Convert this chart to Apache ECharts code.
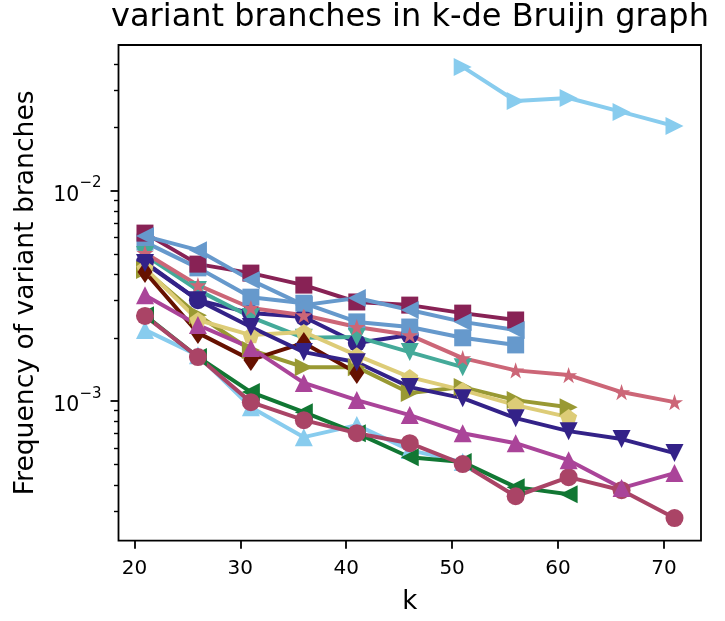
<!DOCTYPE html>
<html><head><meta charset="utf-8">
<script src="https://cdn.jsdelivr.net/npm/echarts@6/dist/echarts.min.js"></script>
<style>html,body{margin:0;padding:0;background:#fff}#c{width:725px;height:621px}</style>
</head><body><div id="c"></div>
<script>
const kValues = [21, 26, 31, 36, 41, 46, 51, 56, 61, 66, 71];
const xTicks = [20, 30, 40, 50, 60, 70];
const yMajorTicks = [0.001, 0.01];
const yMinorTicks = [2e-4,3e-4,4e-4,5e-4,6e-4,7e-4,8e-4,9e-4,2e-3,3e-3,4e-3,5e-3,6e-3,7e-3,8e-3,9e-3,2e-2,3e-2,4e-2];

const s0  = [4.58e-3, 3.02e-3, 2.62e-3, 2.51e-3, 1.89e-3, 2.06e-3, null, null, null, null, null];
const s1  = [5.70e-3, 4.30e-3, 3.12e-3, 2.92e-3, 2.38e-3, 2.25e-3, 2.00e-3, 1.85e-3, null, null, null];
const s2  = [2.18e-3, 1.65e-3, 9.36e-4, 6.74e-4, 7.69e-4, 5.85e-4, 5.13e-4, null, null, null, null];
const s3  = [4.95e-3, 3.37e-3, 2.51e-3, 2.00e-3, 2.02e-3, 1.71e-3, 1.45e-3, null, null, null, null];
const s4  = [2.56e-3, 1.62e-3, 1.104e-3, 8.86e-4, 7.04e-4, 5.41e-4, 5.13e-4, 3.90e-4, 3.61e-4, null, null];
const s5  = [4.20e-3, 2.56e-3, 1.75e-3, 1.45e-3, 1.45e-3, 1.092e-3, 1.166e-3, 1.011e-3, 9.36e-4, null, null];
const s6  = [4.29e-3, 2.43e-3, 2.06e-3, 2.13e-3, 1.65e-3, 1.30e-3, 1.128e-3, 9.57e-4, 8.39e-4, null, null];
const s7  = [4.11e-3, 2.11e-3, 1.57e-3, 1.89e-3, 1.36e-3, null, null, null, null, null, null];
const s8  = [5.06e-3, 3.56e-3, 2.77e-3, 2.56e-3, 2.25e-3, 2.06e-3, 1.60e-3, 1.40e-3, 1.33e-3, 1.104e-3, 9.89e-4];
const s9  = [2.54e-3, 1.62e-3, 9.89e-4, 8.12e-4, 7.04e-4, 6.31e-4, 5.02e-4, 3.53e-4, 4.35e-4, 3.77e-4, 2.78e-4];
const s10 = [6.29e-3, 4.48e-3, 4.06e-3, 3.56e-3, 2.96e-3, 2.86e-3, 2.62e-3, 2.43e-3, null, null, null];
const s11 = [3.19e-3, 2.30e-3, 1.79e-3, 1.22e-3, 1.011e-3, 8.58e-4, 7.04e-4, 6.31e-4, 5.24e-4, 3.86e-4, 4.55e-4];
const s12 = [4.53e-3, 3.02e-3, 2.25e-3, 1.71e-3, 1.53e-3, 1.166e-3, 1.033e-3, 8.30e-4, 7.20e-4, 6.60e-4, 5.66e-4];
const s13 = [6.09e-3, 5.22e-3, 3.76e-3, 2.86e-3, 3.09e-3, 2.71e-3, 2.38e-3, 2.18e-3, null, null, null];
const s14 = [null, null, null, null, null, null, 0.0388, 0.0267, 0.0276, 0.0237, 0.0203];

const seriesValues = [s0, s1, s2, s3, s4, s5, s6, s7, s8, s9, s10, s11, s12, s13, s14];
const seriesColors = ['#332288','#6699CC','#88CCEE','#44AA99','#117733','#999933','#DDCC77','#661100','#CC6677','#AA4466','#882255','#AA4499','#332288','#6699CC','#88CCEE'];
const seriesMarkers = ['o','s','^','v','<','>','p','d','*','o','s','^','v','<','>'];

const STAR = 'path://M0,-1 L0.2245,-0.309 L0.9511,-0.309 L0.3633,0.118 L0.5878,0.809 L0,0.382 L-0.5878,0.809 L-0.3633,0.118 L-0.9511,-0.309 L-0.2245,-0.309 Z';
const PENT = 'path://M0,-1 L0.9511,-0.309 L0.5878,0.809 L-0.5878,0.809 L-0.9511,-0.309 Z';
const MS = 18;
function markerStyle(m) {
  switch (m) {
    case 'o': return {symbol: 'circle', symbolSize: MS, symbolRotate: 0};
    case 's': return {symbol: 'rect', symbolSize: 17, symbolRotate: 0};
    case '^': return {symbol: 'triangle', symbolSize: MS, symbolRotate: 0};
    case 'v': return {symbol: 'triangle', symbolSize: MS, symbolRotate: 180};
    case '<': return {symbol: 'triangle', symbolSize: MS, symbolRotate: 90};
    case '>': return {symbol: 'triangle', symbolSize: MS, symbolRotate: -90};
    case 'd': return {symbol: 'diamond', symbolSize: [15, 22], symbolRotate: 0};
    case '*': return {symbol: STAR, symbolSize: [MS * 0.95, MS * 0.9], symbolRotate: 0};
    case 'p': return {symbol: PENT, symbolSize: [MS * 0.95, MS * 0.9], symbolRotate: 0};
  }
}

const FONT = 'DejaVu Sans';
const series = seriesValues.map((vals, i) => {
  const m = markerStyle(seriesMarkers[i]);
  return {
    type: 'line',
    data: kValues.map((k, j) => [k, vals[j]]).filter(p => p[1] != null),
    symbol: m.symbol,
    symbolSize: m.symbolSize,
    symbolRotate: m.symbolRotate,
    showAllSymbol: true,
    color: seriesColors[i],
    lineStyle: {color: seriesColors[i], width: 4},
    itemStyle: {color: seriesColors[i], opacity: 1},
    emphasis: {disabled: true},
    clip: false,
    z: 2
  };
});

const chart = echarts.init(document.getElementById('c'), null, {renderer: 'canvas'});
chart.setOption({
  animation: false,
  backgroundColor: '#fff',
  title: {
    text: 'variant branches in k-de Bruijn graph',
    left: 410, top: 2, padding: 0, textAlign: 'center',
    textStyle: {fontFamily: FONT, fontSize: 32, fontWeight: 'normal', color: '#000'}
  },
  grid: {left: 118.5, top: 45, right: 24, bottom: 80.3, show: true, borderColor: '#000', borderWidth: 1.8, backgroundColor: 'transparent'},
  xAxis: {
    type: 'value', min: 18.5, max: 73.5,
    name: 'k', nameLocation: 'middle', nameGap: 49,
    nameTextStyle: {fontFamily: FONT, fontSize: 26, color: '#000'},
    axisLine: {show: false},
    axisTick: {show: true, inside: false, length: 8, customValues: xTicks, lineStyle: {color: '#000', width: 1.8}},
    axisLabel: {customValues: xTicks, margin: 18, fontFamily: FONT, fontSize: 20, color: '#000'},
    splitLine: {show: false}
  },
  yAxis: [{
    type: 'log', min: 2.17e-4, max: 0.0493, logBase: 10,
    name: 'Frequency of variant branches', nameLocation: 'middle', nameGap: 79, nameRotate: 90,
    nameTextStyle: {fontFamily: FONT, fontSize: 26.6, color: '#000'},
    axisLine: {show: false},
    axisTick: {show: true, inside: false, length: 8, customValues: yMajorTicks, lineStyle: {color: '#000', width: 1.8}},
    axisLabel: {
      customValues: yMajorTicks, margin: 17, fontFamily: FONT, color: '#000',
      formatter: v => '{b|10}{s|\u2212' + Math.round(-Math.log10(v)) + '}',
      rich: {
        b: {fontFamily: FONT, fontSize: 20.5, color: '#000', lineHeight: 30, verticalAlign: 'bottom'},
        s: {fontFamily: FONT, fontSize: 15, color: '#000', lineHeight: 17, verticalAlign: 'top'}
      }
    },
    splitLine: {show: false}
  }, {
    type: 'log', min: 2.17e-4, max: 0.0493, logBase: 10, position: 'left',
    axisLine: {show: false},
    axisTick: {show: true, inside: false, length: 4.5, customValues: yMinorTicks, lineStyle: {color: '#000', width: 1.4}},
    axisLabel: {show: false},
    splitLine: {show: false}
  }],
  series: series
});
</script>
</body></html>
